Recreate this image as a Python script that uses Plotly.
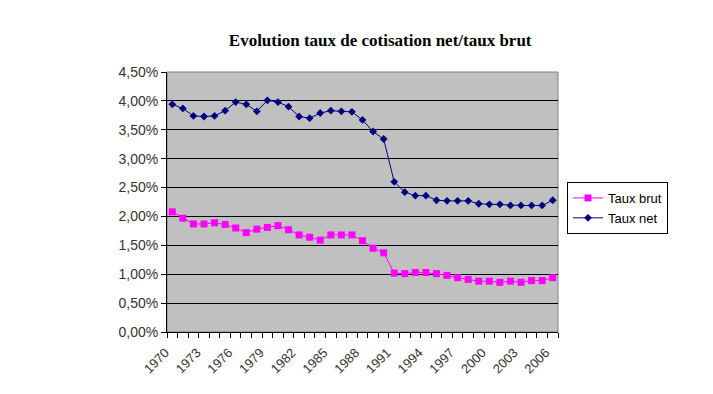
import plotly.graph_objects as go

years = list(range(1970, 2007))
taux_brut = [2.08, 1.97, 1.87, 1.87, 1.89, 1.86, 1.80, 1.72, 1.78, 1.81,
             1.84, 1.77, 1.68, 1.64, 1.59, 1.68, 1.68, 1.68, 1.58, 1.45,
             1.37, 1.02, 1.01, 1.03, 1.03, 1.01, 0.98, 0.94, 0.91, 0.88,
             0.88, 0.86, 0.88, 0.86, 0.89, 0.89, 0.94]
taux_net = [3.94, 3.87, 3.74, 3.73, 3.74, 3.83, 3.98, 3.94, 3.82, 4.01,
            3.98, 3.90, 3.73, 3.70, 3.79, 3.83, 3.82, 3.81, 3.67, 3.47,
            3.34, 2.60, 2.42, 2.36, 2.36, 2.28, 2.27, 2.27, 2.27, 2.22,
            2.21, 2.21, 2.19, 2.19, 2.19, 2.19, 2.28]
y_ticks = [0, 0.5, 1.0, 1.5, 2.0, 2.5, 3.0, 3.5, 4.0, 4.5]
y_labels = ["0,00%", "0,50%", "1,00%", "1,50%", "2,00%", "2,50%", "3,00%", "3,50%", "4,00%", "4,50%"]
x_label_years = years[::3]

fig = go.Figure()
fig.add_trace(go.Scatter(
    x=years, y=taux_brut, name="Taux brut", mode="lines+markers",
    line=dict(color="#FF00FF", width=1),
    marker=dict(symbol="square", size=7, color="#FF00FF")))
fig.add_trace(go.Scatter(
    x=years, y=taux_net, name="Taux net", mode="lines+markers",
    line=dict(color="#000080", width=1),
    marker=dict(symbol="diamond", size=6, color="#000080")))

fig.add_shape(type="rect", xref="paper", yref="paper", x0=0, y0=0, x1=1, y1=1,
              line=dict(color="#808080", width=1), layer="below")

fig.update_layout(
    width=713, height=394,
    margin=dict(l=159, r=163, t=64, b=70),
    paper_bgcolor="white", plot_bgcolor="#C0C0C0",
    title=dict(text="<b>Evolution taux de cotisation net/taux brut</b>",
               x=0.522, xanchor="center", y=0.919, yanchor="middle",
               font=dict(family="Liberation Serif", size=17, color="black")),
    font=dict(family="Liberation Sans", size=12, color="#333333"),
    legend=dict(x=1.023, y=0.577, xanchor="left", yanchor="top",
                bordercolor="black", borderwidth=1, bgcolor="white",
                font=dict(family="Liberation Sans", size=13, color="black"),
                itemwidth=30, tracegroupgap=0),
    showlegend=True,
)
fig.update_xaxes(
    range=[1969.5, 2006.5], tickmode="array", tickvals=x_label_years,
    ticktext=[str(y) for y in x_label_years], tickangle=-45,
    ticks="", showgrid=False, zeroline=False,
    showline=True, linecolor="black", linewidth=1,
    ticklabelshift=-7, ticklabelstandoff=7,
    tickfont=dict(family="Liberation Sans", size=13, color="#333333"),
    minor=dict(tickvals=[y - 0.5 for y in years] + [2006.5], ticks="outside",
               ticklen=5, tickcolor="black", showgrid=False),
)
fig.update_yaxes(
    range=[0, 4.5], tickmode="array", tickvals=y_ticks, ticktext=y_labels,
    ticks="outside", ticklen=5, tickcolor="black",
    showgrid=True, gridcolor="black", gridwidth=1, zeroline=False,
    showline=True, linecolor="black", linewidth=1,
    tickfont=dict(family="Liberation Sans", size=14, color="#333333"),
)

fig.write_html("out.html")
